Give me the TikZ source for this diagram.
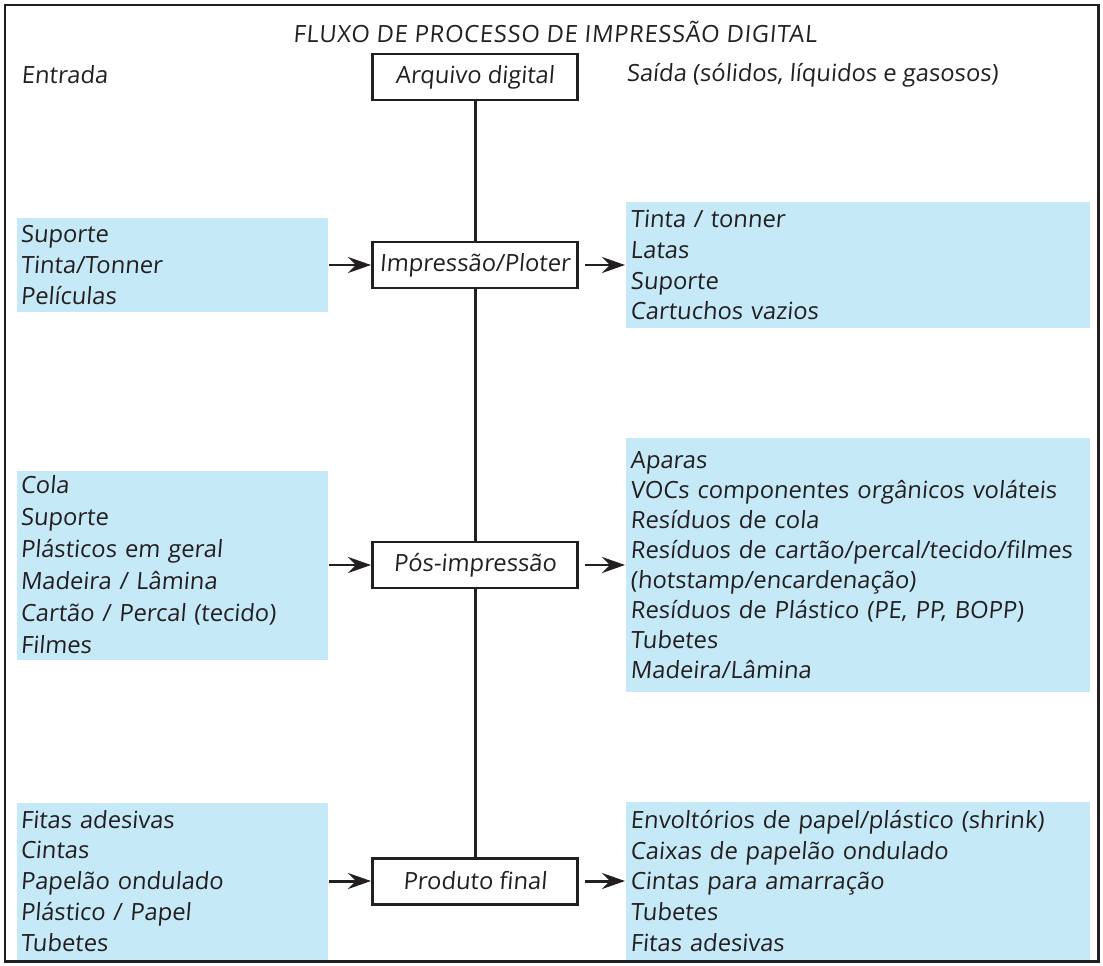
\documentclass[tikz,border=0pt]{standalone}
\usepackage{fontspec}
\setmainfont{Open Sans}[FakeSlant=0.08]
\usetikzlibrary{arrows.meta, positioning}
\definecolor{cbox}{HTML}{C6E9F8}
\definecolor{cink}{HTML}{231F20}
\tikzset{
  every picture/.style={font=\fontsize{13.5}{17.6}\selectfont, line width=1.7pt, text=cink},
  stage/.style={draw=cink, fill=white, minimum width=4.1cm, minimum height=0.92cm, inner sep=0pt},
  list/.style={fill=cbox, align=left, inner xsep=0.08cm, inner ysep=0pt, text width=#1},
  inlist/.style={list=6.06cm},
  outlist/.style={list=9.10cm},
  arrow/.style={-{Stealth[length=4.6mm, width=3.2mm, inset=1.6mm]}, draw=cink},
  heading/.style={inner sep=0pt},
}

\begin{document}
\begin{tikzpicture}
  \useasboundingbox (0,0) rectangle (22.06,-19.32);
  \draw[draw=cink, line width=1.7pt] (0.1,-0.1) rectangle (21.96,-19.22);
  \node[heading, font=\fontsize{13.5}{17.6}\selectfont\addfontfeatures{LetterSpace=3}] (title) at (11.1,-0.64) {FLUXO DE PROCESSO DE IMPRESSÃO DIGITAL};
  \node[heading, anchor=west] (entrada) at (0.4,-1.5) {Entrada};
  \node[heading, anchor=west] (saida) at (12.5,-1.5) {Saída (sólidos, líquidos e gasosos)};
  % process column
  \node[stage] (arq) at (9.5,-1.54) {Arquivo digital};
  \node[stage] (imp) at (9.5,-5.3) {Impressão/Ploter};
  \node[stage] (pos) at (9.5,-11.3) {Pós-impressão};
  \node[stage] (prod) at (9.5,-17.62) {Produto final};
  \foreach \a/\b in {arq/imp, imp/pos, pos/prod} \draw[draw=cink] (\a) -- (\b);
  % inputs
  \node[inlist, left=0.84cm of imp, minimum height=1.88cm] (in1) {Suporte\\Tinta/Tonner\\Películas};
  \node[inlist, left=0.84cm of pos, minimum height=3.78cm, font=\fontsize{13.5}{18.2}\selectfont] (in2) {Cola\\Suporte\\Plásticos em geral\\Madeira / Lâmina\\Cartão / Percal (tecido)\\Filmes};
  \node[inlist, left=0.84cm of prod, minimum height=3.14cm] (in3) {Fitas adesivas\\Cintas\\Papelão ondulado\\Plástico / Papel\\Tubetes};
  % outputs
  \node[outlist, right=0.92cm of imp, minimum height=2.52cm] (out1) {Tinta / tonner\\Latas\\Suporte\\Cartuchos vazios};
  \node[outlist, right=0.92cm of pos, minimum height=5.08cm, font=\fontsize{13.5}{17.1}\selectfont] (out2) {Aparas\\VOCs componentes orgânicos voláteis\\Resíduos de cola\\Resíduos de cartão/percal/tecido/filmes\\(hotstamp/encardenação)\\Resíduos de Plástico (PE, PP, BOPP)\\Tubetes\\Madeira/Lâmina};
  \node[outlist, right=0.92cm of prod, minimum height=3.16cm] (out3) {Envoltórios de papel/plástico (shrink)\\Caixas de papelão ondulado\\Cintas para amarração\\Tubetes\\Fitas adesivas};
  \foreach \s/\i/\o in {imp/in1/out1, pos/in2/out2, prod/in3/out3} {
    \draw[arrow] (\i) -- (\s);
    \draw[arrow, shorten <=0.12cm] (\s.east) -- (\s.east -| \o.west);
  }
\end{tikzpicture}
\end{document}
